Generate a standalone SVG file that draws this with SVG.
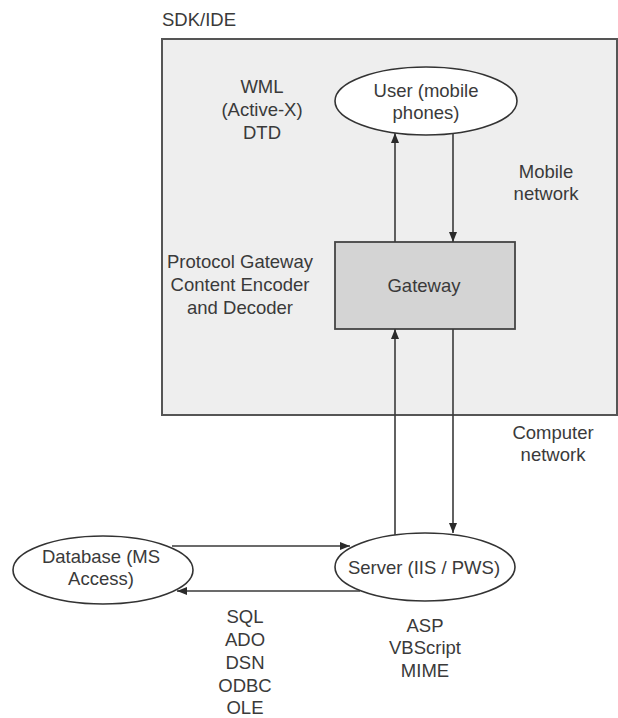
<svg xmlns="http://www.w3.org/2000/svg" width="618" height="718" viewBox="0 0 618 718">
<style>
text{font-family:"Liberation Sans",Arial,Helvetica,sans-serif;font-size:18.5px;fill:#3a3a3a;text-anchor:middle}
.l{text-anchor:start}
.ell{fill:#ffffff;stroke:#333;stroke-width:1.6}
.con{stroke:#3a3a3a;stroke-width:1.6;fill:none}
</style>
<defs>
<marker id="ah" viewBox="0 0 10 8" refX="10" refY="4" markerWidth="10" markerHeight="8" markerUnits="userSpaceOnUse" orient="auto">
<path d="M0,0 L10,4 L0,8 Z" fill="#2a2a2a"/>
</marker>
</defs>
<rect width="618" height="718" fill="#ffffff"/>
<g id="sdk">
<rect x="162" y="39" width="455" height="376" fill="#eeeeee" stroke="#555" stroke-width="2"/>
<text class="l" x="162" y="26">SDK/IDE</text>
</g>
<g id="wml-label">
<text x="262" y="93">WML</text>
<text x="262" y="116">(Active-X)</text>
<text x="262" y="139">DTD</text>
</g>
<g id="user">
<ellipse class="ell" cx="426" cy="101" rx="91" ry="34"/>
<text x="426" y="97">User (mobile</text>
<text x="426" y="119">phones)</text>
</g>
<g id="mobile-label">
<text x="546" y="178">Mobile</text>
<text x="546" y="200">network</text>
</g>
<g id="protocol-label">
<text x="240" y="268">Protocol Gateway</text>
<text x="240" y="291">Content Encoder</text>
<text x="240" y="314">and Decoder</text>
</g>
<g id="gateway">
<rect x="335" y="242" width="180" height="87" fill="#d4d4d4" stroke="#444" stroke-width="1.8"/>
<text x="424" y="292">Gateway</text>
</g>
<g id="computer-label">
<text x="553" y="439">Computer</text>
<text x="553" y="461">network</text>
</g>
<g id="database">
<ellipse class="ell" cx="103" cy="570" rx="90" ry="34"/>
<text x="101" y="563">Database (MS</text>
<text x="101" y="585">Access)</text>
</g>
<g id="server">
<ellipse class="ell" cx="425" cy="567" rx="90" ry="34"/>
<text x="424" y="574">Server (IIS / PWS)</text>
</g>
<g id="sql-label">
<text x="245" y="623">SQL</text>
<text x="245" y="646">ADO</text>
<text x="245" y="669">DSN</text>
<text x="245" y="692">ODBC</text>
<text x="245" y="714">OLE</text>
</g>
<g id="asp-label">
<text x="425" y="632">ASP</text>
<text x="425" y="654">VBScript</text>
<text x="425" y="677">MIME</text>
</g>
<g id="connectors">
<line class="con" x1="395" y1="242" x2="395" y2="133" marker-end="url(#ah)"/>
<line class="con" x1="453" y1="134" x2="453" y2="242" marker-end="url(#ah)"/>
<line class="con" x1="395" y1="535" x2="395" y2="329" marker-end="url(#ah)"/>
<line class="con" x1="453" y1="329" x2="453" y2="533" marker-end="url(#ah)"/>
<line class="con" x1="172" y1="546" x2="350" y2="546" marker-end="url(#ah)"/>
<line class="con" x1="360" y1="591" x2="177" y2="591" marker-end="url(#ah)"/>
</g>
</svg>
